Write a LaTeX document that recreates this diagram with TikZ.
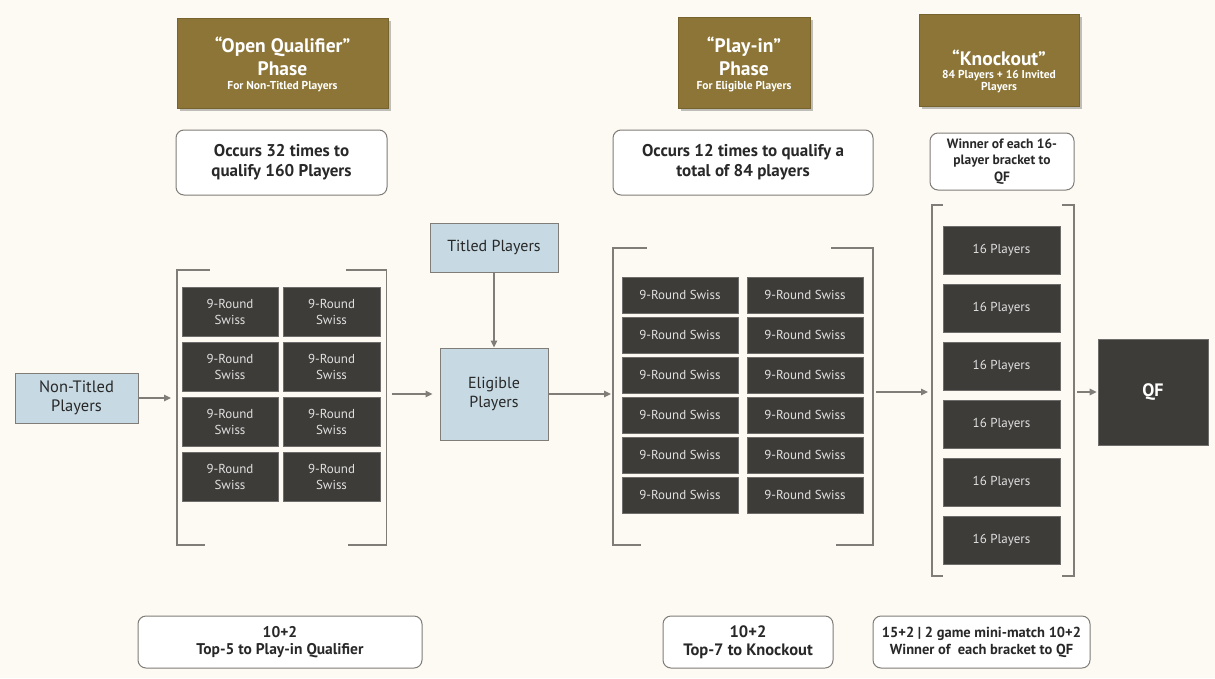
\documentclass[tikz,border=0pt]{standalone}
\usepackage{fontspec}
\setmainfont{PT Sans}
\usetikzlibrary{arrows.meta,shadows}
\definecolor{bgc}{RGB}{252,250,243}
\definecolor{goldc}{RGB}{140,117,54}
\definecolor{darkc}{RGB}{62,60,57}
\definecolor{bluec}{RGB}{199,218,227}
\definecolor{linec}{RGB}{128,124,120}
\definecolor{txtc}{RGB}{40,40,40}
\begin{document}
\begin{tikzpicture}[x=1pt,y=-1pt,
 goldbox/.style={fill=goldc, draw=goldc!85!black, line width=0.6pt,
   drop shadow={shadow xshift=2.5pt,shadow yshift=-2.5pt,opacity=0.35,fill=black!70},
   inner sep=0pt, outer sep=0pt},
 goldtxt/.style={text=white, font=\bfseries\fontsize{19.5}{23}\selectfont, align=center, inner sep=0pt},
 notebox/.style={fill=white, draw=linec, line width=1pt, rounded corners=8pt,
   font=\bfseries\fontsize{17}{20}\selectfont, text=txtc, align=center, inner sep=0pt},
 swissbox/.style={fill=darkc, draw=darkc!75!white, line width=0.6pt, text=white!88!black,
   font=\fontsize{13}{16}\selectfont, align=center, inner sep=0pt},
 bluebox/.style={fill=bluec, draw=linec, line width=1pt, text=txtc,
   font=\fontsize{16}{19}\selectfont, align=center, inner sep=0pt},
 brk/.style={draw=linec, line width=1.5pt},
 arr/.style={draw=linec, line width=1.5pt, -{Triangle[length=7pt,width=6.5pt]}}
]
\useasboundingbox[fill=bgc] (0,0) rectangle (1215,678);

% phase headers
\node[goldbox, minimum width=211, minimum height=90] (g1) at (282.5,63) {};
\node[goldtxt] (g1t) at (282.5,64.5) {“Open Qualifier”\\ Phase\\[-9pt] {\fontsize{11.5}{13}\selectfont For Non-Titled Players}};
\node[goldbox, minimum width=132, minimum height=91] (g2) at (744,62.5) {};
\node[goldtxt] (g2t) at (744,64) {“Play-in”\\ Phase\\[-9pt] {\fontsize{11.5}{13}\selectfont For Eligible Players}};
\node[goldbox, minimum width=160, minimum height=92] (g3) at (999,60) {};
\node[goldtxt] (g3t) at (999,71) {“Knockout”\\[-10pt] {\fontsize{11.5}{13}\selectfont 84 Players + 16 Invited}\\[-11pt] {\fontsize{11.5}{13}\selectfont Players}};

% notes
\node[notebox, minimum width=211, minimum height=65] (n1) at (281.5,162.5) {Occurs 32 times to\\qualify 160 Players};
\node[notebox, minimum width=260, minimum height=65] (n2) at (743,162.5) {Occurs 12 times to qualify a\\total of 84 players};
\node[notebox, minimum width=144, minimum height=57, font=\bfseries\fontsize{13.5}{16.5}\selectfont] (n3) at (1002,161.5) {Winner of each 16-\\player bracket to\\QF};

\node[notebox, minimum width=284, minimum height=52, font=\bfseries\fontsize{15.5}{17.5}\selectfont] (m1) at (280,642) {10+2\\Top-5 to Play-in Qualifier};
\node[notebox, minimum width=170, minimum height=52, font=\bfseries\fontsize{16.5}{18}\selectfont] (m2) at (748,642) {10+2\\Top-7 to Knockout};
\node[notebox, minimum width=217, minimum height=52, font=\bfseries\fontsize{14.5}{17}\selectfont] (m3) at (981.5,642) {15+2 | 2 game mini-match 10+2\\Winner of\ \ each bracket to QF};

% player pools
\node[bluebox, minimum width=123, minimum height=50, font=\fontsize{16.5}{19.5}\selectfont] (nt) at (76.5,398) {Non-Titled\\Players};
\node[bluebox, minimum width=128, minimum height=49] (tp) at (494,247.5) {Titled Players};
\node[bluebox, minimum width=108, minimum height=92] (el) at (494,394) {Eligible\\Players};

% open qualifier swiss events
\foreach \r [count=\i] in {311.5,366.5,421.5,476.5} {
  \node[swissbox, minimum width=96, minimum height=49] (sa\i) at (230,\r) {9-Round\\Swiss};
  \node[swissbox, minimum width=97, minimum height=49] (sb\i) at (331.5,\r) {9-Round\\Swiss};
}
% play-in swiss events
\foreach \r [count=\i] in {295,335,375,415,455,495} {
  \node[swissbox, minimum width=116, minimum height=36] (pa\i) at (680,\r) {9-Round Swiss};
  \node[swissbox, minimum width=116, minimum height=36] (pb\i) at (805,\r) {9-Round Swiss};
}
% knockout brackets
\foreach \r [count=\i] in {250,308,366,424,482,540} {
  \node[swissbox, minimum width=117, minimum height=48] (k\i) at (1001.5,\r) {16 Players};
}
\node[swissbox, minimum width=110, minimum height=106, text=white, font=\bfseries\fontsize{18}{20}\selectfont] (qf) at (1153,392) {QF};

% brackets
\draw[brk] (210,270) -- (177,270) -- (177,545) -- (205,545);
\draw[brk] (346,270) -- (386.5,270) -- (386.5,545) -- (348,545);
\draw[brk] (647,248) -- (613,248) -- (613,545) -- (641,545);
\draw[brk] (831,248) -- (873,248) -- (873,545) -- (836,545);
\draw[brk] (943,205) -- (932,205) -- (932,576) -- (943,576);
\draw[brk] (1062,205) -- (1074,205) -- (1074,576) -- (1062,576);

\coordinate (b1w) at (177,398);
\coordinate (b1e) at (386.5,394);
\coordinate (b2w) at (613,394);
\coordinate (b2e) at (873,392);
\coordinate (b3w) at (932,392);
\coordinate (b3e) at (1074,392);

% connectors
\draw[arr, shorten >=6pt] (nt) -- (b1w);
\draw[arr, shorten <=5pt, shorten >=7pt] (b1e) -- (el);
\draw[arr] (tp) -- (el);
\draw[arr, shorten >=2pt] (el) -- (b2w);
\draw[arr, shorten <=3pt, shorten >=4pt] (b2e) -- (b3w);
\draw[arr, shorten <=3pt, shorten >=1pt] (b3e) -- (qf);
\end{tikzpicture}
\end{document}
